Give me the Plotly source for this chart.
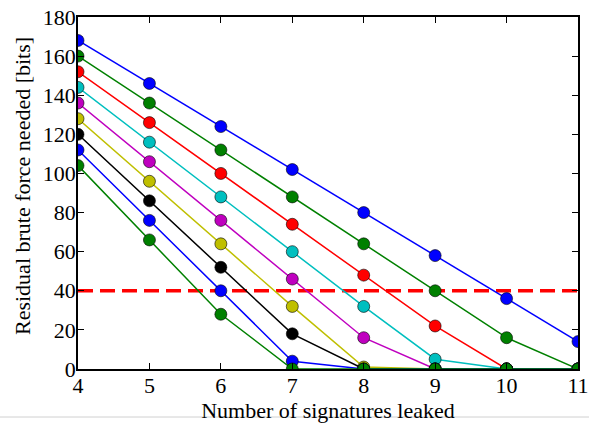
import plotly.graph_objects as go

signatures = [4, 5, 6, 7, 8, 9, 10, 11]
series_values = [
    [168, 146, 124, 102, 80, 58, 36, 14],
    [160, 136, 112, 88, 64, 40, 16, 0],
    [152, 126, 100, 74, 48, 22, 0, 0],
    [144, 116, 88, 60, 32, 5, 0, 0],
    [136, 106, 76, 46, 16, 0, 0, 0],
    [128, 96, 64, 32, 1, 0, 0, 0],
    [120, 86, 52, 18, 0, 0, 0, 0],
    [112, 76, 40, 4, 0, 0, 0, 0],
    [104, 66, 28, 0, 0, 0, 0, 0],
]
series_colors = ["#0000ff", "#008000", "#ff0000", "#00bfbf", "#bf00bf",
                 "#bfbf00", "#000000", "#0000ff", "#008000"]
threshold = 40
x_ticks = [4, 5, 6, 7, 8, 9, 10, 11]
y_ticks = [0, 20, 40, 60, 80, 100, 120, 140, 160, 180]
x_title = "Number of signatures leaked"
y_title = "Residual brute force needed [bits]"

W, H = 589, 425
L, R, T, B = 78, 11, 17, 56
PW, PH = W - L - R, H - T - B

fig = go.Figure()
fig.add_trace(go.Scatter(
    x=[signatures[0], signatures[-1]], y=[threshold, threshold],
    mode="lines", line=dict(color="#ff0000", width=3.5, dash="15px,7px"),
    showlegend=False, hoverinfo="skip"))
for vals, col in zip(series_values, series_colors):
    fig.add_trace(go.Scatter(
        x=signatures, y=vals, mode="lines+markers",
        line=dict(color=col, width=1.5),
        marker=dict(color=col, size=12, line=dict(color="#000000", width=0.6)),
        showlegend=False, cliponaxis=True))

font = dict(family="Liberation Serif, Times New Roman, serif", size=22, color="#000000")
axis_common = dict(showline=True, linecolor="#000000", linewidth=1.5, mirror="ticks",
                   ticks="inside", ticklen=6, tickwidth=1, tickcolor="#000000",
                   showgrid=False, zeroline=False, tickfont=font, automargin=False)
fig.update_xaxes(range=[4, 11], tickvals=x_ticks, ticktext=[str(v) for v in x_ticks],
                 ticklabelstandoff=-4,
                 title=dict(text=x_title, font=font, standoff=4),
                 **axis_common)
fig.update_yaxes(range=[0, 180], tickvals=y_ticks, ticktext=[str(v) for v in y_ticks],
                 ticklabelstandoff=-4, **axis_common)
fig.add_annotation(text=y_title, xref="paper", yref="paper", x=(22 - L) / PW, y=0.5 + 7 / PH,
                   xanchor="center", yanchor="middle", textangle=-90, showarrow=False, font=font)
gy = -(417 - (H - B)) / PH
fig.add_shape(type="line", xref="paper", yref="paper", x0=-L / PW, x1=1 + R / PW,
              y0=gy, y1=gy, line=dict(color="#d0d0d0", width=1), layer="below")
fig.update_layout(width=W, height=H, margin=dict(l=L, r=R, t=T, b=B),
                  paper_bgcolor="#ffffff", plot_bgcolor="#ffffff", font=font)
fig.write_html("out.html", config={"displayModeBar": False},
               post_script="document.body.style.margin='0';")
